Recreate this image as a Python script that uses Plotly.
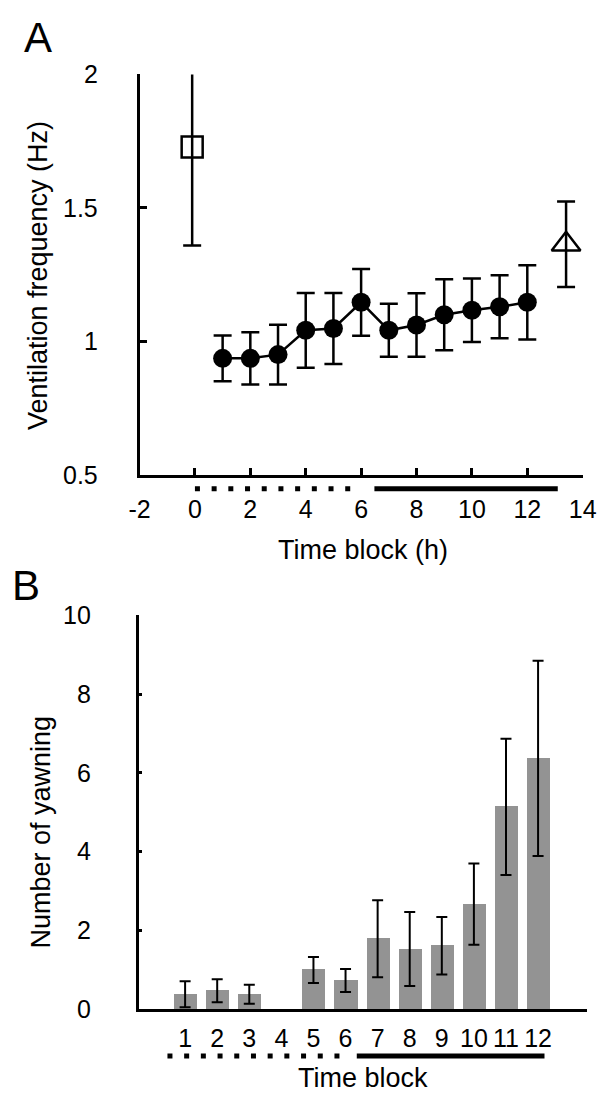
import plotly.graph_objects as go

# ---------------- Data ----------------
# Panel A: ventilation frequency (Hz), mean +/- error
time_a = [1, 2, 3, 4, 5, 6, 7, 8, 9, 10, 11, 12]
vent_mean = [0.937, 0.937, 0.951, 1.042, 1.049, 1.147, 1.042, 1.062, 1.100, 1.117, 1.130, 1.147]
vent_err = [0.086, 0.098, 0.112, 0.140, 0.133, 0.125, 0.099, 0.119, 0.133, 0.119, 0.118, 0.139]
pre_x = [-0.1]
pre_mean = [1.728]
pre_err = [0.368]
post_x = [13.4]
post_mean = [1.364]
post_err = [0.160]
a_xticks = [-2, 0, 2, 4, 6, 8, 10, 12, 14]
a_xticklabels = ["-2", "0", "2", "4", "6", "8", "10", "12", "14"]
a_yticks = [0.5, 1, 1.5, 2]
a_yticklabels = ["0.5", "1", "1.5", "2"]
a_light = [0.0, 5.9]      # dotted period (x units)
a_dark = [6.48, 13.1]     # solid period (x units)

# Panel B: number of yawning, mean +/- error
blocks = [1, 2, 3, 4, 5, 6, 7, 8, 9, 10, 11, 12]
yawn_mean = [0.38, 0.47, 0.38, 0.0, 1.00, 0.73, 1.79, 1.53, 1.61, 2.67, 5.14, 6.37]
yawn_err = [0.33, 0.29, 0.24, 0.0, 0.33, 0.29, 0.98, 0.94, 0.73, 1.03, 1.73, 2.48]
b_yticks = [0, 2, 4, 6, 8, 10]
b_light = [0.45, 6.05]
b_dark = [6.35, 12.2]

# ---------------- Layout geometry ----------------
W, H = 613, 1111
A_XRANGE = [-2, 14]
A_YRANGE = [0.5, 2.0]
B_XRANGE = [-0.45, 13.51]
B_YRANGE = [0, 10]
A_XDOM = [134 / W, 596 / W]
A_YDOM = [1 - 473 / H, 1 - 62 / H]
B_XDOM = [133 / W, 600 / W]
B_YDOM = [1 - 1021 / H, 1 - 617 / H]

FONT = "Liberation Sans, Arial, sans-serif"
TICK_SIZE = 25
TITLE_SIZE = 27

fig = go.Figure()
fig.add_trace(go.Scatter(
    x=time_a, y=vent_mean, mode="lines+markers",
    line=dict(color="black", width=2.5),
    marker=dict(symbol="circle", size=19, color="black"),
    error_y=dict(type="data", array=vent_err, visible=True, color="black", thickness=2.5, width=9),
    cliponaxis=False, showlegend=False, xaxis="x", yaxis="y"))
fig.add_trace(go.Scatter(
    x=pre_x, y=pre_mean, mode="markers",
    marker=dict(symbol="square-open", size=21, color="black", line=dict(width=2.5)),
    error_y=dict(type="data", array=pre_err, visible=True, color="black", thickness=2.5, width=9),
    cliponaxis=False, showlegend=False, xaxis="x", yaxis="y"))
fig.add_trace(go.Scatter(
    x=post_x, y=post_mean, mode="markers",
    marker=dict(symbol="triangle-up-open", size=25, color="black", line=dict(width=2.5)),
    error_y=dict(type="data", array=post_err, visible=True, color="black", thickness=2.5, width=9),
    cliponaxis=False, showlegend=False, xaxis="x", yaxis="y"))

fig.add_trace(go.Bar(
    x=blocks, y=yawn_mean, width=0.72,
    marker=dict(color="#939393", line=dict(width=0)),
    showlegend=False, xaxis="x2", yaxis="y2"))
eb_x = [b for b, e in zip(blocks, yawn_err) if e > 0]
eb_y = [m for m, e in zip(yawn_mean, yawn_err) if e > 0]
eb_e = [e for e in yawn_err if e > 0]
fig.add_trace(go.Scatter(
    x=eb_x, y=eb_y, mode="markers", marker=dict(size=0.1, color="rgba(0,0,0,0)"),
    error_y=dict(type="data", array=eb_e, visible=True, color="black", thickness=2, width=5.5),
    showlegend=False, hoverinfo="skip", xaxis="x2", yaxis="y2"))


def to_paper_x(v, rng, dom):
    return dom[0] + (v - rng[0]) / (rng[1] - rng[0]) * (dom[1] - dom[0])


def py(pix):
    return 1 - pix / H


shapes = []
for (seg, rng, dom, ypix, dash) in [
    (a_light, A_XRANGE, A_XDOM, 487, "5px,11.7px"),
    (a_dark, A_XRANGE, A_XDOM, 487, "solid"),
    (b_light, B_XRANGE, B_XDOM, 1069, "5px,11.7px"),
    (b_dark, B_XRANGE, B_XDOM, 1069, "solid"),
]:
    shapes.append(dict(
        type="line", xref="paper", yref="paper",
        x0=to_paper_x(seg[0], rng, dom), x1=to_paper_x(seg[1], rng, dom),
        y0=py(ypix), y1=py(ypix),
        line=dict(color="black", width=5, dash=dash)))

axis_common = dict(showline=True, linecolor="black", linewidth=2.5, showgrid=False,
                   zeroline=False, tickcolor="black",
                   tickfont=dict(family=FONT, size=TICK_SIZE, color="black"))

annotations = [
    dict(text="A", x=28 / W, y=py(24), xref="paper", yref="paper", showarrow=False,
         font=dict(family=FONT, size=42, color="black"), xanchor="center", yanchor="middle"),
    dict(text="B", x=16 / W, y=py(586), xref="paper", yref="paper", showarrow=False,
         font=dict(family=FONT, size=42, color="black"), xanchor="center", yanchor="middle"),
    dict(text="Ventilation frequency (Hz)", x=28 / W, y=py(268), xref="paper", yref="paper",
         showarrow=False, textangle=-90, font=dict(family=FONT, size=TITLE_SIZE, color="black"),
         xanchor="center", yanchor="middle"),
    dict(text="Time block (h)", x=367 / W, y=py(550), xref="paper", yref="paper",
         showarrow=False, font=dict(family=FONT, size=TITLE_SIZE, color="black"),
         xanchor="center", yanchor="middle"),
    dict(text="Number of yawning", x=31 / W, y=py(839), xref="paper", yref="paper",
         showarrow=False, textangle=-90, font=dict(family=FONT, size=TITLE_SIZE, color="black"),
         xanchor="center", yanchor="middle"),
    dict(text="Time block", x=367 / W, y=py(1092), xref="paper", yref="paper",
         showarrow=False, font=dict(family=FONT, size=TITLE_SIZE, color="black"),
         xanchor="center", yanchor="middle"),
]

fig.update_layout(
    width=W, height=H, autosize=False,
    margin=dict(l=0, r=0, t=0, b=0),
    paper_bgcolor="white", plot_bgcolor="white",
    font=dict(family=FONT, color="black"),
    xaxis=dict(domain=A_XDOM, range=A_XRANGE, anchor="y", tickvals=a_xticks,
               ticktext=a_xticklabels, ticks="inside", ticklen=7, tickwidth=2.5,
               ticklabelstandoff=10, **axis_common),
    yaxis=dict(domain=A_YDOM, range=A_YRANGE, anchor="x", tickvals=a_yticks,
               ticktext=a_yticklabels, ticks="inside", ticklen=8, tickwidth=2.5,
               ticklabelstandoff=34, **axis_common),
    xaxis2=dict(domain=B_XDOM, range=B_XRANGE, anchor="y2", tickvals=blocks,
                ticktext=[str(b) for b in blocks], ticks="", ticklabelstandoff=5,
                **axis_common),
    yaxis2=dict(domain=B_YDOM, range=B_YRANGE, anchor="x2", tickvals=b_yticks,
                ticks="inside", ticklen=4, tickwidth=2.5, ticklabelstandoff=40,
                **axis_common),
    shapes=shapes,
    annotations=annotations,
    bargap=0,
)

fig.write_html("out.html")
